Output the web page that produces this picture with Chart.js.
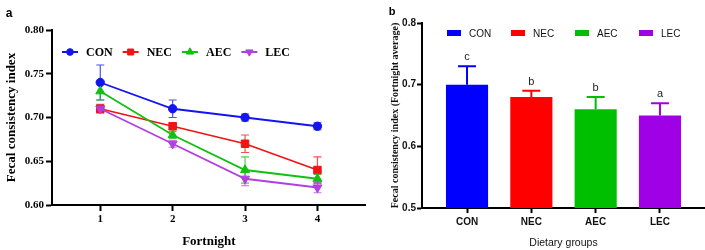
<!DOCTYPE html>
<html><head><meta charset="utf-8">
<script src="https://cdn.jsdelivr.net/npm/chart.js@4/dist/chart.umd.min.js"></script>
<style>
html,body{margin:0;padding:0;background:#fff;width:705px;height:250px;overflow:hidden;}
#wa{position:absolute;left:0;top:0;width:372px;height:250px;}
#wb{position:absolute;left:360px;top:0;width:345px;height:250px;}
</style></head><body>
<div id="wa"><canvas id="ca"></canvas></div>
<div id="wb"><canvas id="cb"></canvas></div>
<script>
// ---------- data ----------
const fortnights = [1, 2, 3, 4];
const groups = ['CON', 'NEC', 'AEC', 'LEC'];
const conMean = [0.74, 0.71, 0.70, 0.69];
const conSem  = [0.02, 0.01, 0.004, 0.004];
const necMean = [0.71, 0.69, 0.67, 0.64];
const necSem  = [0.005, 0.004, 0.01, 0.015];
const aecMean = [0.73, 0.68, 0.64, 0.63];
const aecSem  = [0.01, 0.004, 0.015, 0.005];
const lecMean = [0.71, 0.67, 0.63, 0.62];
const lecSem  = [0.004, 0.004, 0.008, 0.006];
const avgMean = [0.70, 0.68, 0.66, 0.65];
const avgSem  = [0.03, 0.01, 0.02, 0.02];
const sigLetters = ['c', 'b', 'b', 'a'];
const yTicksA = [0.60, 0.65, 0.70, 0.75, 0.80];
const yTicksB = [0.5, 0.6, 0.7, 0.8];

// ---------- styles ----------
const lineColors = ['#1414f0', '#f01414', '#12c012', '#b040e0'];
const barColors  = ['#0000ff', '#ff0000', '#00bf00', '#a000e6'];
const pointStyles = ['circle', 'rect', 'triangle', 'triangle'];
const pointRot = [0, 0, 0, 180];
const pointRad = [4.2, 5.3, 5.2, 5.2];
const SERIF = "'Liberation Serif','Times New Roman',serif";
const SANS = "'Liberation Sans',Arial,sans-serif";

const meansA = [conMean, necMean, aecMean, lecMean];
const semsA = [conSem, necSem, aecSem, lecSem];

// ---------- chart A plugins ----------
const errA = {
  id: 'errA',
  beforeDatasetsDraw(chart) {
    const ctx = chart.ctx, xs = chart.scales.x, ys = chart.scales.y;
    ctx.save();
    meansA.forEach((m, di) => {
      ctx.strokeStyle = lineColors[di];
      ctx.globalAlpha = 0.75;
      ctx.lineWidth = 1.2;
      m.forEach((v, i) => {
        const x = xs.getPixelForValue(fortnights[i]);
        const y1 = ys.getPixelForValue(v + semsA[di][i]);
        const y2 = ys.getPixelForValue(v - semsA[di][i]);
        ctx.beginPath();
        ctx.moveTo(x, y1); ctx.lineTo(x, y2);
        ctx.moveTo(x - 4, y1); ctx.lineTo(x + 4, y1);
        ctx.moveTo(x - 4, y2); ctx.lineTo(x + 4, y2);
        ctx.stroke();
      });
    });
    ctx.restore();
  }
};
function marker(ctx, style, rot, r, x, y, color) {
  ctx.fillStyle = color; ctx.strokeStyle = color;
  if (Chart.helpers && Chart.helpers.drawPoint) {
    ctx.lineWidth = 1;
    Chart.helpers.drawPoint(ctx, {pointStyle: style, rotation: rot, radius: r, borderWidth: 1}, x, y);
  } else {
    ctx.beginPath(); ctx.arc(x, y, r, 0, Math.PI * 2); ctx.fill();
  }
}
const legA = {
  id: 'legA',
  afterDraw(chart) {
    const ctx = chart.ctx;
    ctx.save();
    ctx.font = 'bold 12px ' + SERIF;
    ctx.textBaseline = 'middle';
    let x0 = 62; const y = 52;
    groups.forEach((g, i) => {
      ctx.strokeStyle = lineColors[i]; ctx.lineWidth = 2;
      ctx.beginPath(); ctx.moveTo(x0, y); ctx.lineTo(x0 + 16, y); ctx.stroke();
      marker(ctx, pointStyles[i], pointRot[i], pointRad[i] * 0.8, x0 + 8, y, lineColors[i]);
      ctx.fillStyle = '#000';
      ctx.fillText(g, x0 + 24, y + 1);
      x0 = x0 + 24 + ctx.measureText(g).width + 10;
    });
    ctx.font = 'bold 12px ' + SANS;
    ctx.textAlign = 'center';
    ctx.fillText('a', 9, 14);
    ctx.restore();
  }
};

new Chart(document.getElementById('ca'), {
  type: 'line',
  data: {
    datasets: groups.map((g, i) => ({
      label: g,
      data: fortnights.map((f, k) => ({x: f, y: meansA[i][k]})),
      borderColor: lineColors[i],
      backgroundColor: lineColors[i],
      borderWidth: 1.8,
      pointStyle: pointStyles[i],
      pointRotation: pointRot[i],
      pointRadius: pointRad[i],
      pointBorderWidth: 1,
      tension: 0
    })).reverse()
  },
  options: {
    responsive: true, maintainAspectRatio: false, animation: false,
    layout: {padding: {top: 30, right: 5, left: 0, bottom: 0}},
    plugins: {legend: {display: false}, tooltip: {enabled: false}},
    scales: {
      x: {
        type: 'linear', min: 1/3, max: 14/3,
        afterBuildTicks: s => { s.ticks = fortnights.map(v => ({value: v})); },
        afterFit: s => { s.height = 45; },
        grid: {display: true, offset: false, drawOnChartArea: false, drawTicks: true, tickLength: 6, tickColor: '#000', tickWidth: 2},
        border: {display: true, color: '#000', width: 2},
        ticks: {autoSkip: false, maxRotation: 0, padding: 2, color: '#000', font: {family: SERIF, size: 11, weight: 'bold'}, callback: v => String(v)},
        title: {display: true, text: 'Fortnight', color: '#000', padding: {top: 0, bottom: 1}, font: {family: SERIF, size: 13, weight: 'bold'}}
      },
      y: {
        type: 'linear', min: 0.6, max: 0.8,
        afterBuildTicks: s => { s.ticks = yTicksA.map(v => ({value: v})); },
        afterFit: s => { s.width = 52; },
        grid: {display: true, drawOnChartArea: false, drawTicks: true, tickLength: 6, tickColor: '#000', tickWidth: 2},
        border: {display: true, color: '#000', width: 2},
        ticks: {padding: 2, color: '#000', font: {family: SERIF, size: 11, weight: 'bold'}, callback: v => Number(v).toFixed(2)},
        title: {display: true, text: 'Fecal consistency index', color: '#000', padding: {top: 4, bottom: 0}, font: {family: SERIF, size: 13, weight: 'bold'}}
      }
    }
  },
  plugins: [errA, legA]
});

// ---------- chart B plugins ----------
const errB = {
  id: 'errB',
  afterDatasetsDraw(chart) {
    const ctx = chart.ctx, xs = chart.scales.x, ys = chart.scales.y;
    ctx.save();
    ctx.lineWidth = 2;
    avgMean.forEach((v, i) => {
      const x = xs.getPixelForValue(i);
      const yb = ys.getPixelForValue(v);
      const yt = ys.getPixelForValue(v + avgSem[i]);
      ctx.strokeStyle = barColors[i];
      ctx.beginPath();
      ctx.moveTo(x, yb); ctx.lineTo(x, yt);
      ctx.moveTo(x - 9, yt); ctx.lineTo(x + 9, yt);
      ctx.stroke();
      ctx.fillStyle = '#222';
      ctx.font = '11px ' + SANS;
      ctx.textAlign = 'center'; ctx.textBaseline = 'middle';
      ctx.fillText(sigLetters[i], x, yt - 9);
    });
    ctx.restore();
  }
};
const legB = {
  id: 'legB',
  afterDraw(chart) {
    const ctx = chart.ctx;
    ctx.save();
    ctx.font = '10px ' + SANS;
    ctx.textBaseline = 'middle';
    groups.forEach((g, i) => {
      const x0 = 87 + 64 * i, y = 33;
      ctx.fillStyle = barColors[i];
      ctx.fillRect(x0, y - 3, 14, 6);
      ctx.fillStyle = '#111';
      ctx.fillText(g, x0 + 22, y + 1);
    });
    ctx.font = 'bold 11px ' + SANS;
    ctx.textAlign = 'center';
    ctx.fillStyle = '#000';
    ctx.fillText('b', 32, 12);
    ctx.restore();
  }
};

new Chart(document.getElementById('cb'), {
  type: 'bar',
  data: {
    datasets: [{
      label: 'Fortnight average',
      data: groups.map((g, i) => ({x: i, y: avgMean[i]})),
      backgroundColor: barColors,
      borderWidth: 0,
      categoryPercentage: 1,
      barPercentage: 0.655
    }]
  },
  options: {
    responsive: true, maintainAspectRatio: false, animation: false,
    layout: {padding: {top: 23, right: 0, left: 0, bottom: 0}},
    plugins: {legend: {display: false}, tooltip: {enabled: false}},
    scales: {
      x: {
        type: 'linear', min: -0.7, max: 3.7, offset: false,
        afterBuildTicks: s => { s.ticks = groups.map((g, i) => ({value: i})); },
        afterFit: s => { s.height = 42; },
        grid: {display: true, offset: false, drawOnChartArea: false, drawTicks: true, tickLength: 5, tickColor: '#000', tickWidth: 2},
        border: {display: true, color: '#000', width: 2},
        ticks: {autoSkip: false, maxRotation: 0, padding: 3, color: '#111', font: {family: SANS, size: 10, weight: 'bold'}, callback: v => groups[Math.round(v)]},
        title: {display: true, text: 'Dietary groups', color: '#111', padding: {top: 0, bottom: 1}, font: {family: SANS, size: 10.5}}
      },
      y: {
        type: 'linear', min: 0.5, max: 0.8,
        afterBuildTicks: s => { s.ticks = yTicksB.map(v => ({value: v})); },
        afterFit: s => { s.width = 62; },
        grid: {display: true, drawOnChartArea: false, drawTicks: true, tickLength: 5, tickColor: '#000', tickWidth: 2},
        border: {display: true, color: '#000', width: 2},
        ticks: {padding: 1, color: '#111', font: {family: SANS, size: 10, weight: 'bold'}, callback: v => Number(v).toFixed(1)},
        title: {display: true, text: 'Fecal consistency index (Fortnight average)', color: '#111', padding: {top: 29, bottom: 0}, font: {family: SERIF, size: 10, weight: 'bold'}}
      }
    }
  },
  plugins: [errB, legB]
});
</script>
</body></html>
